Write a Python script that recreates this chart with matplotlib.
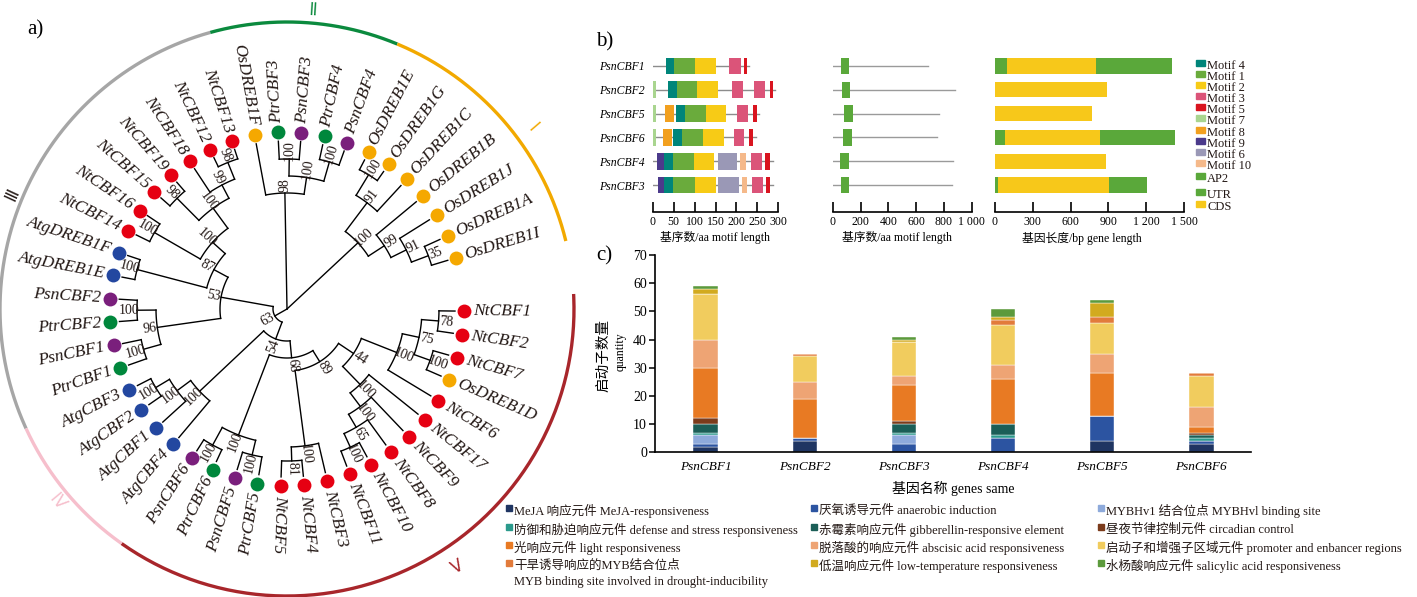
import numpy as np
import matplotlib.pyplot as plt
from matplotlib.patches import Rectangle

plt.rcParams['font.family'] = ['Liberation Serif', 'Noto Sans CJK SC']
plt.rcParams['axes.unicode_minus'] = False

W, H = 1417, 597
fig = plt.figure(figsize=(W / 100, H / 100), dpi=100)


def px_axes(x0, y0, x1, y1):
    return fig.add_axes([x0 / W, 1 - y1 / H, (x1 - x0) / W, (y1 - y0) / H])


def ftext(x, y, s, **kw):
    fig.text(x / W, 1 - y / H, s, **kw)


# ---------------- a) tree data ----------------
leaves = ['NtCBF1', 'NtCBF2', 'NtCBF7', 'OsDREB1D', 'NtCBF6', 'NtCBF17', 'NtCBF9',
          'NtCBF8', 'NtCBF10', 'NtCBF11', 'NtCBF3', 'NtCBF4', 'NtCBF5', 'PtrCBF5',
          'PsnCBF5', 'PtrCBF6', 'PsnCBF6', 'AtgCBF4', 'AtgCBF1', 'AtgCBF2', 'AtgCBF3',
          'PtrCBF1', 'PsnCBF1', 'PtrCBF2', 'PsnCBF2', 'AtgDREB1E', 'AtgDREB1F',
          'NtCBF14', 'NtCBF16', 'NtCBF15', 'NtCBF19', 'NtCBF18', 'NtCBF12', 'NtCBF13',
          'OsDREB1F', 'PtrCBF3', 'PsnCBF3', 'PtrCBF4', 'PsnCBF4', 'OsDREB1E',
          'OsDREB1G', 'OsDREB1C', 'OsDREB1B', 'OsDREB1J', 'OsDREB1A', 'OsDREB1I']

# [bootstrap, node radius, children...]
nt_a = ['100', 118, ['75', 135, ['78', 152, 'NtCBF1', 'NtCBF2'],
                     ['100', 152, 'NtCBF7', 'OsDREB1D']], 'NtCBF6']
nt_b = ['100', 105, 'NtCBF17', ['100', 122, 'NtCBF9',
                                ['65', 137, 'NtCBF8', ['100', 152, 'NtCBF10', 'NtCBF11']]]]
nt_c = ['100', 138, ['81', 152, 'NtCBF5', 'NtCBF4'], 'NtCBF3']
node44 = ['44', 80, nt_a, nt_b]
node89 = ['89', 62, nt_c, node44]
pop56 = ['100', 135, ['100', 155, 'PsnCBF6', 'PtrCBF6'], ['100', 150, 'PsnCBF5', 'PtrCBF5']]
node68 = ['68', 49, pop56, node89]
atg = ['100', 120, ['100', 137, ['100', 153, 'AtgCBF3', 'AtgCBF2'], 'AtgCBF1'], 'AtgCBF4']
node54 = ['54', 32, atg, node68]
pop12 = ['96', 131, ['100', 150, 'PsnCBF2', 'PtrCBF2'], ['100', 149, 'PsnCBF1', 'PtrCBF1']]
nt_iii = ['100', 100, ['100', 153, 'NtCBF14', 'NtCBF16'],
          ['100', 125, ['98', 156, 'NtCBF15', 'NtCBF19'],
           ['99', 140, 'NtCBF18', ['98', 158, 'NtCBF12', 'NtCBF13']]]]
node87 = ['87', 83, ['100', 155, 'AtgDREB1F', 'AtgDREB1E'], nt_iii]
node53 = ['53', 67, pop12, node87]
node63 = ['63', 14, node53, node54]
clade2 = ['98', 116, 'OsDREB1F', ['100', 133, ['100', 150, 'PtrCBF3', 'PsnCBF3'],
                                  ['100', 153, 'PtrCBF4', 'PsnCBF4']]]
clade1 = ['100', 97, ['91', 133, ['100', 157, 'OsDREB1E', 'OsDREB1G'], 'OsDREB1C'],
          ['99', 116, 'OsDREB1B', ['91', 133, 'OsDREB1J', ['35', 151, 'OsDREB1A', 'OsDREB1I']]]]
root = ['', 0, node63, clade2, clade1]

species_col = {'Nt': '#e60012', 'Os': '#f5a800', 'Atg': '#2347a0',
               'Psn': '#7a1f7c', 'Ptr': '#00873c'}

# clade arcs: (numeral, start deg, end deg, colour)
clades = [('Ⅲ', 105.5, 204.6, '#a6a6a6'), ('Ⅱ', 67.4, 105.5, '#0b8a3e'),
          ('Ⅰ', 13.7, 67.4, '#f2a900'), ('Ⅴ', -125.2, 3.0, '#a8262b'),
          ('Ⅳ', 204.6, 234.8, '#f6bfcc')]
numeral_pos = {'Ⅰ': (533, 128), 'Ⅱ': (313, 10), 'Ⅲ': (12, 195),
               'Ⅳ': (57, 502), 'Ⅴ': (457, 567)}

ax = px_axes(0, 0, 580, 597)
ax.set_xlim(0, 580)
ax.set_ylim(597, 0)
ax.axis('off')

cx, cy = 287, 309
leaf_ang = {n: -0.7 - i * 7.61 for i, n in enumerate(leaves)}


def xy(r, a):
    t = np.radians(a)
    return cx + r * np.cos(t), cy - r * np.sin(t)


def norm(a):
    return (a + 180) % 360 - 180


def draw(node, pr):
    if isinstance(node, str):
        a = leaf_ang[node]
        ax.plot(*xy(np.array([pr, 168]), a), color='k', lw=1)
        x, y = xy(177, a)
        c = species_col[node[:3]] if node[:3] in species_col else species_col[node[:2]]
        ax.plot(x, y, 'o', ms=10, color=c, mec='none', zorder=5)
        an = norm(a)
        if -96 <= an <= 96:
            rot, ha = an, 'left'
        else:
            rot, ha = an - 180 if an > 0 else an + 180, 'right'
        tx, ty = xy(186, a)
        ax.text(tx, ty, node, rotation=rot, ha=ha, va='center', rotation_mode='anchor',
                fontsize=12.5, fontstyle='italic', color='#231815')
        return a
    lab, r, *kids = node
    angs = [draw(k, r) for k in kids]
    a = (min(angs) + max(angs)) / 2
    if r > 0:
        arc = np.linspace(min(angs), max(angs), 60)
        ax.plot(*xy(r, arc), color='k', lw=1)
        ax.plot(*xy(np.array([pr, r]), a), color='k', lw=1)
        an = norm(a)
        rot = an if -96 <= an <= 96 else (an - 180 if an > 0 else an + 180)
        lx, ly = xy(r + 8, a)
        ax.text(lx, ly, lab, rotation=rot, ha='center', va='center',
                rotation_mode='anchor', fontsize=10, color='#231815')
    return a


draw(root, 0)

for num, a0, a1, col in clades:
    arc = np.linspace(a0, a1, 200)
    ax.plot(*xy(287, arc), color=col, lw=2.4, solid_capstyle='butt')
    x, y = numeral_pos[num]
    am = norm((a0 + a1) / 2)
    rot = am - 90
    if rot < -90:
        rot += 180
    ax.text(x, y, num, color=col if num != 'Ⅲ' else '#231815', fontsize=12,
            rotation=rot, ha='center', va='center', family=['DejaVu Sans', 'Noto Sans CJK SC'])

ax.text(35, 30, 'a)', fontsize=15, ha='center', va='center')

# ---------------- b) motif / gene structure ----------------
b_genes = ['PsnCBF1', 'PsnCBF2', 'PsnCBF5', 'PsnCBF6', 'PsnCBF4', 'PsnCBF3']
protein_len = [231, 292, 255, 247, 288, 287]
motifs_cbf1 = [('Motif 4', 32, 51), ('Motif 1', 51, 101), ('Motif 2', 101, 151),
               ('Motif 3', 183, 210), ('Motif 5', 217, 226)]
motifs_cbf2 = [('Motif 7', 0, 8), ('Motif 4', 37, 57), ('Motif 1', 57, 107),
               ('Motif 2', 107, 157), ('Motif 3', 189, 215), ('Motif 3', 242, 268),
               ('Motif 5', 279, 288)]
motifs_cbf5 = [('Motif 7', 0, 8), ('Motif 8', 29, 52), ('Motif 4', 56, 76),
               ('Motif 1', 76, 127), ('Motif 2', 127, 175), ('Motif 3', 202, 228),
               ('Motif 5', 239, 248)]
motifs_cbf6 = [('Motif 7', 0, 8), ('Motif 8', 24, 45), ('Motif 4', 49, 70),
               ('Motif 1', 70, 119), ('Motif 2', 119, 170), ('Motif 3', 193, 219),
               ('Motif 5', 231, 240)]
motifs_cbf4 = [('Motif 9', 11, 27), ('Motif 4', 27, 48), ('Motif 1', 48, 99),
               ('Motif 2', 99, 147), ('Motif 6', 155, 202), ('Motif 10', 209, 223),
               ('Motif 3', 234, 261), ('Motif 5', 269, 280)]
motifs_cbf3 = [('Motif 9', 12, 28), ('Motif 4', 28, 49), ('Motif 1', 49, 101),
               ('Motif 2', 101, 151), ('Motif 6', 157, 206), ('Motif 10', 213, 225),
               ('Motif 3', 236, 263), ('Motif 5', 271, 281)]
motif_rows = [motifs_cbf1, motifs_cbf2, motifs_cbf5, motifs_cbf6, motifs_cbf4, motifs_cbf3]

domain_len = [688, 880, 767, 748, 868, 856]
ap2_start = [58, 65, 84, 77, 53, 58]
ap2_end = [120, 125, 144, 139, 115, 120]

utr5_end = [98, 0, 0, 79, 0, 26]
cds_end = [802, 886, 772, 833, 878, 905]
gene_len = [1402, 886, 772, 1429, 878, 1204]

legend_b = ['Motif 4', 'Motif 1', 'Motif 2', 'Motif 3', 'Motif 5', 'Motif 7',
            'Motif 8', 'Motif 9', 'Motif 6', 'Motif 10', 'AP2', 'UTR', 'CDS']
motif_col = {'Motif 4': '#00857a', 'Motif 1': '#6aab3c', 'Motif 2': '#f7cb16',
             'Motif 3': '#db5479', 'Motif 5': '#d9141f', 'Motif 7': '#a9d58f',
             'Motif 8': '#f2a01f', 'Motif 9': '#4b3a8b', 'Motif 6': '#9a98b6',
             'Motif 10': '#f5b98a', 'AP2': '#5aa83a', 'UTR': '#5aa83a', 'CDS': '#f7c81a'}

rows = np.arange(len(b_genes))


def style_b(axb, xmax, ticks, labels):
    axb.set_xlim(0, xmax)
    axb.set_ylim(6.12, -0.7)
    for s in ['top', 'right', 'left']:
        axb.spines[s].set_visible(False)
    axb.spines['bottom'].set_linewidth(1.2)
    axb.set_xticks(ticks, labels, fontsize=8.5)
    axb.tick_params(axis='x', direction='in', length=7, width=1.2, pad=3)
    axb.tick_params(axis='y', length=0)


b1 = px_axes(652.7, 49.3, 778.3, 211.7)
for i, (ln, ms) in enumerate(zip(protein_len, motif_rows)):
    b1.plot([0, ln], [i, i], color='#8c8c8c', lw=1, zorder=1)
    for name, s, e in ms:
        b1.barh(i, e - s, left=s, height=0.7, color=motif_col[name], zorder=2)
style_b(b1, 300, [0, 50, 100, 150, 200, 250, 300], ['0', '50', '100', '150', '200', '250', '300'])
b1.set_yticks(rows, b_genes, fontsize=8.5, fontstyle='italic')
b1.tick_params(axis='y', pad=6)

b2 = px_axes(832.7, 49.3, 971.7, 211.7)
for i in rows:
    b2.plot([0, domain_len[i]], [i, i], color='#9a9a9a', lw=1, zorder=1)
    b2.barh(i, ap2_end[i] - ap2_start[i], left=ap2_start[i], height=0.68,
            color=motif_col['AP2'], zorder=2)
style_b(b2, 1000, [0, 200, 400, 600, 800, 1000], ['0', '200', '400', '600', '800', '1 000'])
b2.set_yticks([])

b3 = px_axes(995, 49.3, 1184, 211.7)
for i in rows:
    b3.barh(i, utr5_end[i], left=0, height=0.64, color=motif_col['UTR'])
    b3.barh(i, cds_end[i] - utr5_end[i], left=utr5_end[i], height=0.64, color=motif_col['CDS'])
    b3.barh(i, gene_len[i] - cds_end[i], left=cds_end[i], height=0.64, color=motif_col['UTR'])
style_b(b3, 1500, [0, 300, 600, 900, 1200, 1500], ['0', '300', '600', '900', '1 200', '1 500'])
b3.set_yticks([])

ftext(715, 238, '基序数/aa motif length', fontsize=8.5, ha='center', va='center')
ftext(897, 238, '基序数/aa motif length', fontsize=8.5, ha='center', va='center')
ftext(1082, 238, '基因长度/bp gene length', fontsize=8.5, ha='center', va='center')
ftext(605, 42, 'b)', fontsize=15, ha='center', va='center')

leg_y = [62.7, 74, 85, 96, 107, 118, 130, 141, 152, 163, 176, 192, 204]
for name, y in zip(legend_b, leg_y):
    fig.patches.append(Rectangle((1196 / W, 1 - (y + 3) / H), 9 / W, 6 / H,
                                 transform=fig.transFigure, color=motif_col[name]))
    ftext(1207, y + 1.5, name, fontsize=9, ha='left', va='center_baseline', color='#231815')

# ---------------- c) promoter elements ----------------
c_genes = ['PsnCBF1', 'PsnCBF2', 'PsnCBF3', 'PsnCBF4', 'PsnCBF5', 'PsnCBF6']
meja = [2, 4, 0, 0, 4, 3]
anaerobic = [1, 1, 3, 5, 9, 1]
mybhv1 = [3, 0, 3, 0, 0, 0]
defense = [1, 0, 1, 1, 0, 1]
gibberellin = [3, 0, 3, 4, 0, 1]
circadian = [2, 0, 1, 0, 0, 1]
light = [18, 14, 13, 16, 15, 2]
abscisic = [10, 6, 3, 5, 7, 7]
promoter = [16, 9, 12, 14, 11, 11]
drought_myb = [0, 1, 0, 2, 2, 1]
low_temp = [2, 0, 1, 1, 5, 0]
salicylic = [1, 0, 1, 3, 1, 0]

series = [meja, anaerobic, mybhv1, defense, gibberellin, circadian, light,
          abscisic, promoter, drought_myb, low_temp, salicylic]
series_names = ['MeJA 响应元件 MeJA-responsiveness',
                '厌氧诱导元件 anaerobic induction',
                'MYBHv1 结合位点 MYBHvl binding site',
                '防御和胁迫响应元件 defense and stress responsiveness',
                '赤霉素响应元件 gibberellin-responsive element',
                '昼夜节律控制元件 circadian control',
                '光响应元件 light responsiveness',
                '脱落酸的响应元件 abscisic acid responsiveness',
                '启动子和增强子区域元件 promoter and enbancer regions',
                '干旱诱导响应的MYB结合位点\nMYB binding site involved in drought-inducibility',
                '低温响应元件 low-temperature responsiveness',
                '水杨酸响应元件 salicylic acid responsiveness']
series_cols = ['#1f3562', '#2c54a1', '#8eaadb', '#2b9a8c', '#1b5e57', '#7b3b1b',
               '#e87a23', '#eea474', '#f1cc5e', '#e27b3b', '#d2aa1f', '#5c9a3c']

axc = px_axes(655.3, 255, 1250.7, 452.3)
xs = np.arange(len(c_genes))
bottom = np.zeros(len(c_genes))
for vals, col in zip(series, series_cols):
    axc.bar(xs, vals, bottom=bottom, width=0.25, color=col, edgecolor='#ffffff',
            linewidth=0.3)
    bottom += np.array(vals)
axc.set_xlim(-0.51, 5.5)
axc.set_ylim(0, 70)
axc.set_yticks(range(0, 71, 10))
axc.set_xticks(xs, c_genes, fontstyle='italic', fontsize=9.5)
axc.tick_params(axis='x', length=0, pad=6)
axc.tick_params(axis='y', direction='out', length=4, width=1.1, labelsize=10, pad=2)
for s in ['top', 'right']:
    axc.spines[s].set_visible(False)
for s in ['left', 'bottom']:
    axc.spines[s].set_linewidth(1.2)

ftext(604, 355, '启动子数量', rotation=90, fontsize=10.5, ha='center', va='center')
ftext(621, 352, 'quantity', rotation=90, fontsize=8.5, ha='center', va='center')
ftext(953, 488, '基因名称 genes same', fontsize=10, ha='center', va='center')
ftext(604, 256, 'c)', fontsize=15, ha='center', va='center')

leg_cols_x = [506, 811, 1098]
leg_rows_y = [508, 527, 545, 563]
for k, (name, col) in enumerate(zip(series_names, series_cols)):
    x0 = leg_cols_x[k % 3]
    y0 = leg_rows_y[k // 3]
    fig.patches.append(Rectangle((x0 / W, 1 - (y0 + 3) / H), 6 / W, 6 / H,
                                 transform=fig.transFigure, color=col))
    lines = name.split('\n')
    ftext(x0 + 8, y0 + 1, lines[0], fontsize=9, ha='left', va='center_baseline',
          color='#231815')
    if len(lines) > 1:
        ftext(x0 + 8, y0 + 18, lines[1], fontsize=9, ha='left', va='center_baseline',
              color='#231815')

fig.savefig('out.png', dpi=100)
